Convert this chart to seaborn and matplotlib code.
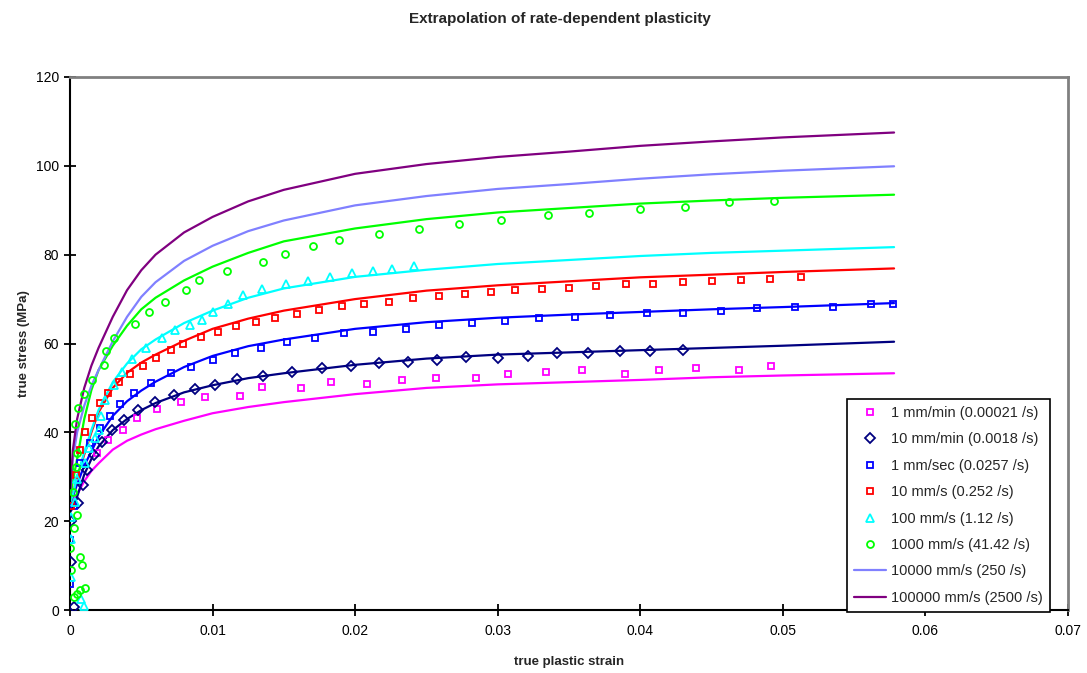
import matplotlib
matplotlib.use("Agg")
import matplotlib.pyplot as plt
import numpy as np
import pandas as pd
import seaborn as sns

# ---------------- data ----------------
title = "Extrapolation of rate-dependent plasticity"
x_label = "true plastic strain"
y_label = "true stress (MPa)"
x_ticks = [0, 0.01, 0.02, 0.03, 0.04, 0.05, 0.06, 0.07]
x_tick_labels = ["0", "0.01", "0.02", "0.03", "0.04", "0.05", "0.06", "0.07"]
y_ticks = [0, 20, 40, 60, 80, 100, 120]

# fitted / extrapolated curves
strain_fit = [0, 0.0002, 0.0005, 0.001, 0.0015, 0.002, 0.003, 0.004, 0.005, 0.006, 0.008,
              0.01, 0.0125, 0.015, 0.02, 0.025, 0.03, 0.035, 0.04, 0.045, 0.05, 0.0578]
fit_1mm_min = [23, 24.5, 26, 29, 31.3, 33, 36.1, 38.1, 39.5, 40.7, 42.6,
               44.3, 45.7, 46.8, 48.6, 50.0, 50.8, 51.3, 51.8, 52.4, 52.8, 53.3]
fit_10mm_min = [22, 23, 25.5, 30.5, 34.0, 36.8, 40.5, 43.0, 45.0, 46.6, 49.0,
                50.6, 52.2, 53.3, 55.2, 56.6, 57.5, 58.0, 58.5, 59.0, 59.5, 60.4]
fit_1mm_sec = [24, 25.5, 28.3, 32.5, 35.7, 39.0, 43.7, 47.0, 49.4, 51.4, 54.7,
               57.2, 59.4, 60.9, 63.3, 64.8, 65.8, 66.5, 67.1, 67.7, 68.2, 69.1]
fit_10mm_s = [24, 26, 30, 35, 40, 44.5, 50.0, 53.4, 55.7, 57.5, 60.6,
              63.3, 65.6, 67.4, 70.0, 71.9, 73.1, 74.0, 74.9, 75.5, 76.1, 76.9]
fit_100mm_s = [24, 26, 30, 35.5, 40.5, 45, 51.3, 55.5, 58.7, 60.9, 64.6,
               67.4, 70.3, 72.4, 75.0, 76.6, 77.9, 78.8, 79.7, 80.4, 80.9, 81.7]
fit_1000mm_s = [25, 29, 34, 43, 49.5, 54, 59.5, 64, 67.7, 70.3, 74.2,
                77.3, 80.4, 83.0, 85.9, 88.0, 89.5, 90.5, 91.5, 92.2, 92.8, 93.5]
fit_10000mm_s = [25.5, 34, 40, 46, 50.5, 54, 60.5, 66, 70.5, 73.8, 78.6,
                 82, 85.3, 87.7, 91.1, 93.2, 94.8, 95.9, 97.1, 98.1, 98.9, 99.9]
fit_100000mm_s = [26, 36, 43, 50, 55, 59, 66, 72, 76.5, 80, 85,
                  88.5, 92, 94.6, 98.2, 100.4, 102, 103.2, 104.5, 105.5, 106.4, 107.5]

# experimental points
exp_1mm_min_strain = [0.0019, 0.0027, 0.0037, 0.0047, 0.0061, 0.0078, 0.0095, 0.0119, 0.0135, 0.0162,
                      0.0183, 0.0208, 0.0233, 0.0257, 0.0285, 0.0307, 0.0334, 0.0359, 0.0389, 0.0413,
                      0.0439, 0.0469, 0.0492]
exp_1mm_min_stress = [35.3, 38.3, 40.5, 43.2, 45.2, 46.8, 47.9, 48.2, 50.1, 49.9,
                      51.3, 50.8, 51.8, 52.2, 52.2, 53.1, 53.6, 54.0, 53.1, 54.0,
                      54.4, 54.0, 54.9]
exp_10mm_min_strain = [0.0003, 0.0001, 0.0001, 0.00056, 0.00089, 0.00119, 0.00166, 0.00224, 0.00295, 0.00376,
                       0.00477, 0.00599, 0.00727, 0.00874, 0.01017, 0.01174, 0.01356, 0.01555, 0.01765, 0.01969,
                       0.02167, 0.02373, 0.02577, 0.02778, 0.030, 0.03215, 0.03418, 0.03635, 0.03858, 0.04068,
                       0.04297]
exp_10mm_min_stress = [0.6, 10.9, 20, 24.2, 28.1, 31.5, 34.9, 37.9, 40.5, 42.8,
                       45.0, 46.9, 48.4, 49.7, 50.7, 52.1, 52.7, 53.6, 54.4, 55.0,
                       55.7, 55.9, 56.3, 56.9, 56.7, 57.2, 57.8, 57.8, 58.2, 58.2,
                       58.5]
exp_1mm_sec_strain = [0.00002, 0.00002, 0.0003, 0.0007, 0.0014, 0.0021, 0.00281, 0.00351, 0.00451, 0.00568,
                      0.00708, 0.00849, 0.01001, 0.01157, 0.01337, 0.01524, 0.01718, 0.01922, 0.02128, 0.02355,
                      0.0259, 0.02817, 0.03051, 0.03292, 0.03542, 0.03788, 0.04049, 0.04302, 0.04566, 0.04821,
                      0.05085, 0.0535, 0.05616, 0.05775]
exp_1mm_sec_stress = [5.9, 15.8, 23.4, 33.0, 37.5, 40.9, 43.7, 46.4, 48.8, 51.2,
                      53.3, 54.8, 56.3, 57.9, 58.9, 60.3, 61.2, 62.3, 62.7, 63.3,
                      64.2, 64.7, 65.1, 65.7, 66.0, 66.4, 66.9, 66.9, 67.3, 67.9,
                      68.3, 68.3, 68.9, 69.0]
exp_10mm_s_strain = [0.0001, 0.0004, 0.0007, 0.00105, 0.00152, 0.0021, 0.00269, 0.00344, 0.00421, 0.00514,
                     0.006, 0.00708, 0.00795, 0.00919, 0.0104, 0.01164, 0.01305, 0.01438, 0.01594, 0.01747,
                     0.01906, 0.02062, 0.02238, 0.02404, 0.0259, 0.0277, 0.02951, 0.03121, 0.03309, 0.03503,
                     0.03689, 0.039, 0.04091, 0.04298, 0.045, 0.04706, 0.0491, 0.05125]
exp_10mm_s_stress = [23.4, 30.4, 36.0, 40.1, 43.2, 46.7, 48.8, 51.4, 53.1, 54.9,
                     56.7, 58.5, 60.0, 61.5, 62.7, 63.9, 64.9, 65.7, 66.6, 67.5,
                     68.4, 68.9, 69.3, 70.2, 70.7, 71.1, 71.5, 72.0, 72.2, 72.4,
                     72.9, 73.4, 73.4, 73.8, 74.1, 74.3, 74.5, 75.0]
exp_100mm_s_strain = [0.001, 0.0008, 0.0001, 0.0001, 0.0001, 0.00037, 0.00049, 0.00103, 0.00131, 0.00178,
                      0.00206, 0.0022, 0.00243, 0.00306, 0.00365, 0.00435, 0.00531, 0.00645, 0.00739, 0.00842,
                      0.00925, 0.01003, 0.01111, 0.01216, 0.01344, 0.01515, 0.01672, 0.01824, 0.01976, 0.02127,
                      0.02256, 0.02411]
exp_100mm_s_stress = [0.9, 2.5, 7.5, 16.0, 21.0, 24.4, 29.6, 33.2, 36.4, 38.8,
                      40.5, 43.6, 47.3, 50.6, 53.6, 56.5, 58.9, 61.2, 63.0, 64.2,
                      65.3, 67.2, 69.0, 70.9, 72.2, 73.5, 74.1, 75.0, 75.8, 76.4,
                      76.8, 77.5]
exp_1000mm_s_strain = [0.00026, 0.00049, 0.00072, 0.00108, 0.00084, 0.00072, 0.00009, 0.00002, 0.00026, 0.00049,
                       0.00019, 0.00042, 0.00049, 0.00037, 0.00054, 0.00096, 0.00153, 0.00241, 0.0025, 0.00308,
                       0.00456, 0.00553, 0.00666, 0.00812, 0.00906, 0.01103, 0.01356, 0.01508, 0.01702, 0.01889,
                       0.02169, 0.0245, 0.02731, 0.03023, 0.03355, 0.03642, 0.04, 0.04314, 0.04625, 0.0494]
exp_1000mm_s_stress = [3.0, 3.7, 4.5, 4.9, 10.1, 12.0, 9.0, 13.9, 18.4, 21.4,
                       26.5, 32.3, 35.4, 41.8, 45.4, 48.6, 51.8, 55.2, 58.2, 61.3,
                       64.4, 67.0, 69.4, 72.0, 74.2, 76.4, 78.4, 80.1, 81.9, 83.3,
                       84.6, 85.7, 86.8, 87.8, 88.9, 89.4, 90.3, 90.8, 91.8, 92.1]

series_labels = ["1 mm/min (0.00021 /s)", "10 mm/min (0.0018 /s)", "1 mm/sec (0.0257 /s)",
                 "10 mm/s (0.252 /s)", "100 mm/s (1.12 /s)", "1000 mm/s (41.42 /s)",
                 "10000 mm/s (250 /s)", "100000 mm/s (2500 /s)"]
series_colors = ["#FF00FF", "#000080", "#0000FF", "#FF0000", "#00FFFF", "#00FF00", "#8080FF", "#800080"]

# ---------------- plot ----------------
sns.set_theme(style="white")
plt.rcParams["font.family"] = ["Liberation Sans", "DejaVu Sans"]

fig = plt.figure(figsize=(10.87, 6.73), dpi=100)
ax = fig.add_axes([70 / 1087, 63 / 673, 998 / 1087, 533 / 673])

fits = [fit_1mm_min, fit_10mm_min, fit_1mm_sec, fit_10mm_s, fit_100mm_s,
        fit_1000mm_s, fit_10000mm_s, fit_100000mm_s]
for vals, col in zip(fits, series_colors):
    df = pd.DataFrame({"strain": strain_fit, "stress": vals})
    sns.lineplot(data=df, x="strain", y="stress", color=col, linewidth=1.6,
                 estimator=None, sort=False, ax=ax, zorder=2)

exp_sets = [(exp_1mm_min_strain, exp_1mm_min_stress, "s", 5.0),
            (exp_10mm_min_strain, exp_10mm_min_stress, "D", 4.8),
            (exp_1mm_sec_strain, exp_1mm_sec_stress, "s", 5.0),
            (exp_10mm_s_strain, exp_10mm_s_stress, "s", 5.0),
            (exp_100mm_s_strain, exp_100mm_s_stress, "^", 6.0),
            (exp_1000mm_s_strain, exp_1000mm_s_stress, "o", 5.0)]
handles = []
for (xs, ys, mk, ms), col in zip(exp_sets, series_colors[:6]):
    df = pd.DataFrame({"strain": xs, "stress": ys})
    sns.lineplot(data=df, x="strain", y="stress", estimator=None, sort=False,
                 linestyle="none", marker=mk, markersize=ms, markerfacecolor="none",
                 markeredgecolor=col, markeredgewidth=1.3, color=col, ax=ax, zorder=3)
    handles.append(ax.lines[-1])
for i in (6, 7):
    handles.append(ax.lines[i])

ax.set_xlim(0, 0.07)
ax.set_ylim(0, 120)
ax.set_xticks(x_ticks)
ax.set_xticklabels(x_tick_labels)
ax.set_yticks(y_ticks)
ax.tick_params(axis="both", direction="inout", length=8, width=1.3, color="black",
               labelsize=10, labelcolor="black", bottom=True, left=True)
ax.tick_params(axis="x", pad=6)
ax.tick_params(axis="y", pad=4)
ax.set_xlabel(x_label, fontsize=9.5, fontweight="bold", labelpad=13)
ax.set_ylabel(y_label, fontsize=9.5, fontweight="bold", labelpad=4)
for side in ("left", "bottom"):
    ax.spines[side].set_color("black")
    ax.spines[side].set_linewidth(1.5)
for side in ("top", "right"):
    ax.spines[side].set_color("#808080")
    ax.spines[side].set_linewidth(2)
ax.grid(False)

leg = ax.legend(handles, series_labels, loc="lower right", bbox_to_anchor=(0.982, -0.004),
                frameon=True, fancybox=False, shadow=False, fontsize=10.5,
                labelspacing=0.85, handlelength=2.2, handletextpad=0.35, borderpad=0.5,
                borderaxespad=0)
leg.get_frame().set_edgecolor("black")
leg.get_frame().set_linewidth(1.2)
leg.get_frame().set_facecolor("white")
leg.get_frame().set_alpha(1)
leg.set_zorder(5)

fig.text(0.515, 1 - 19 / 673, title, ha="center", va="center", fontsize=11, fontweight="bold")

fig.savefig("out.png", dpi=100, facecolor="white")
